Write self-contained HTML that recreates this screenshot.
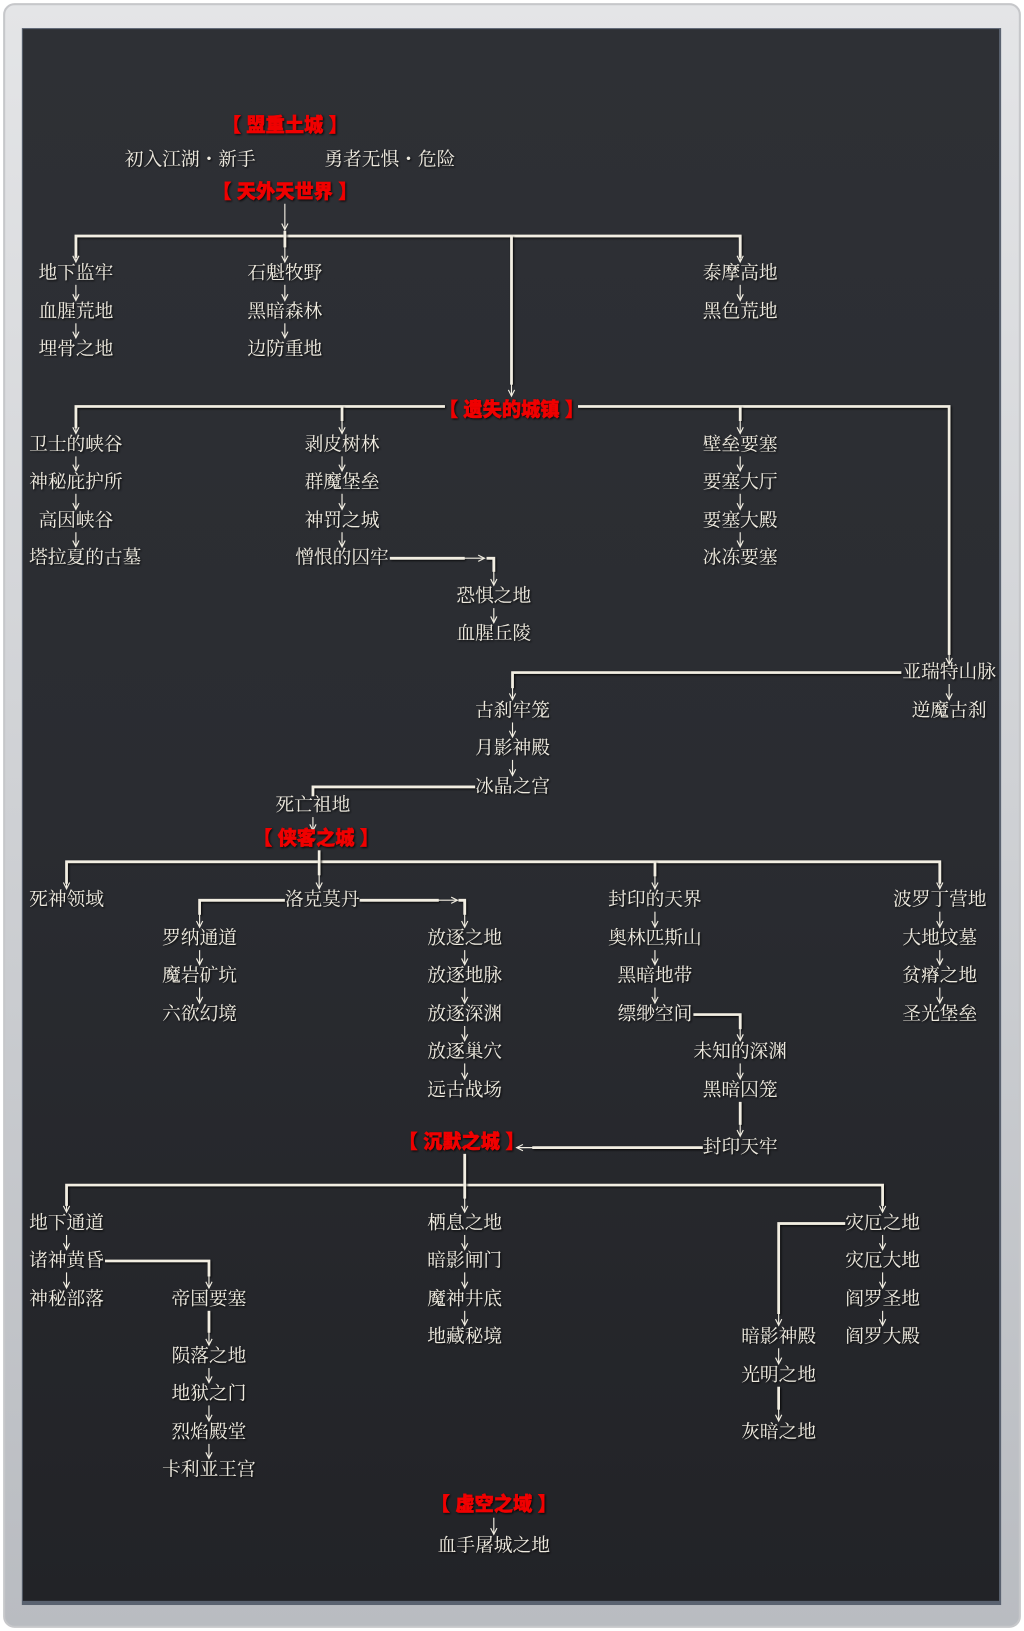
<!DOCTYPE html>
<html><head><meta charset="utf-8">
<style>
html,body{margin:0;padding:0;background:#fff;}
svg{display:block;}
.t{font-family:"Liberation Serif","Noto Serif CJK SC",serif;font-size:18px;fill:#eeeadf;text-anchor:middle;dominant-baseline:central;filter:url(#sh);}
.r{font-family:"Liberation Sans","Noto Sans CJK SC",sans-serif;font-size:18.5px;font-weight:900;fill:#f00000;stroke:#f00000;stroke-width:0.4;text-anchor:middle;dominant-baseline:central;filter:url(#sh);}
.L{stroke:#f2eee2;stroke-width:2.6;fill:none;filter:url(#sh);}
.a{stroke:#f2eee2;stroke-width:1.1;fill:none;marker-end:url(#ah);}
</style></head><body>
<svg width="1024" height="1631" viewBox="0 0 985 1569" preserveAspectRatio="none" xmlns="http://www.w3.org/2000/svg">
<defs>
<filter id="sh" filterUnits="userSpaceOnUse" x="0" y="0" width="985" height="1569"><feDropShadow dx="1" dy="1" stdDeviation="1" flood-color="#000" flood-opacity="0.9"/></filter>
<marker id="ah" markerWidth="10" markerHeight="10" refX="7" refY="4" orient="auto" markerUnits="userSpaceOnUse"><path d="M1,1 L7,4 L1,7" fill="none" stroke="#f2eee2" stroke-width="1.1"/></marker>
<linearGradient id="fr" x1="0" y1="0" x2="0" y2="1"><stop offset="0" stop-color="#e4e5e7"/><stop offset="1" stop-color="#b9bcc1"/></linearGradient>
<linearGradient id="bg" x1="0" y1="0" x2="0" y2="1"><stop offset="0" stop-color="#2e3035"/><stop offset="0.5" stop-color="#2a2c31"/><stop offset="1" stop-color="#222327"/></linearGradient>
</defs>
<rect x="0" y="0" width="985" height="1569" fill="#fff"/>
<rect x="4" y="4" width="977" height="1561" rx="10" fill="url(#fr)" stroke="#c6c7ca" stroke-width="2"/>
<rect x="21" y="27" width="942" height="1517" fill="#5a6270"/>
<rect x="22" y="28" width="939" height="1512" fill="url(#bg)"/>

<text class="r" x="274" y="121">【 盟重土城 】</text>
<text class="t" x="183" y="154">初入江湖・新手</text>
<text class="t" x="375" y="154">勇者无惧・危险</text>
<text class="r" x="274" y="185">【 天外天世界 】</text>
<line class="a" x1="274" y1="196" x2="274" y2="221"/>
<path class="L" d="M73,248 V227 H712 V248"/>
<line class="L" x1="274" y1="222" x2="274" y2="238"/>
<line class="a" x1="274" y1="236" x2="274" y2="252"/>
<line class="L" x1="492" y1="227" x2="492" y2="370"/>
<line class="a" x1="492" y1="365" x2="492" y2="381"/>
<line class="a" x1="73" y1="240" x2="73" y2="252"/>
<line class="a" x1="712" y1="240" x2="712" y2="252"/>

<text class="t" x="73" y="263">地下监牢</text><text class="t" x="73" y="300">血腥荒地</text><text class="t" x="73" y="336">埋骨之地</text>
<line class="a" x1="73" y1="274" x2="73" y2="289"/><line class="a" x1="73" y1="311" x2="73" y2="325"/>
<text class="t" x="274" y="263">石魁牧野</text><text class="t" x="274" y="300">黑暗森林</text><text class="t" x="274" y="336">边防重地</text>
<line class="a" x1="274" y1="274" x2="274" y2="289"/><line class="a" x1="274" y1="311" x2="274" y2="325"/>
<text class="t" x="712" y="263">泰摩高地</text><text class="t" x="712" y="300">黑色荒地</text>
<line class="a" x1="712" y1="274" x2="712" y2="289"/>

<path class="L" d="M73,412 V391 H428"/>
<path class="L" d="M556,391 H913 V630"/>
<line class="a" x1="913" y1="625" x2="913" y2="639"/>
<text class="r" x="492" y="395">【 遗失的城镇 】</text>
<line class="a" x1="73" y1="404" x2="73" y2="417"/>
<line class="L" x1="329" y1="391" x2="329" y2="405"/><line class="a" x1="329" y1="403" x2="329" y2="417"/>
<line class="L" x1="712" y1="391" x2="712" y2="405"/><line class="a" x1="712" y1="403" x2="712" y2="417"/>

<text class="t" x="73" y="428">卫士的峡谷</text><text class="t" x="73" y="464">神秘庇护所</text><text class="t" x="73" y="501">高因峡谷</text><text class="t" x="28" y="537" style="text-anchor:start">塔拉夏的古墓</text>
<line class="a" x1="73" y1="439" x2="73" y2="453"/><line class="a" x1="73" y1="475" x2="73" y2="490"/><line class="a" x1="73" y1="512" x2="73" y2="526"/>
<text class="t" x="329" y="428">剥皮树林</text><text class="t" x="329" y="464">群魔堡垒</text><text class="t" x="329" y="501">神罚之城</text><text class="t" x="329" y="537">憎恨的囚牢</text>
<line class="a" x1="329" y1="439" x2="329" y2="453"/><line class="a" x1="329" y1="475" x2="329" y2="490"/><line class="a" x1="329" y1="512" x2="329" y2="526"/>
<line class="L" x1="375" y1="537" x2="447" y2="537"/>
<line class="a" x1="446" y1="537" x2="466" y2="537"/>
<path class="L" d="M468,537 H475 V550"/><line class="a" x1="475" y1="549" x2="475" y2="563"/>
<text class="t" x="475" y="574">恐惧之地</text><text class="t" x="475" y="610">血腥丘陵</text>
<line class="a" x1="475" y1="585" x2="475" y2="599"/>
<text class="t" x="712" y="428">壁垒要塞</text><text class="t" x="712" y="464">要塞大厅</text><text class="t" x="712" y="501">要塞大殿</text><text class="t" x="712" y="537">冰冻要塞</text>
<line class="a" x1="712" y1="439" x2="712" y2="453"/><line class="a" x1="712" y1="475" x2="712" y2="490"/><line class="a" x1="712" y1="512" x2="712" y2="526"/>

<text class="t" x="913" y="647">亚瑞特山脉</text><text class="t" x="913" y="684">逆魔古刹</text>
<line class="a" x1="913" y1="658" x2="913" y2="673"/>
<path class="L" d="M867,647 H493 V662"/><line class="a" x1="493" y1="660" x2="493" y2="673"/>
<text class="t" x="493" y="684">古刹牢笼</text><text class="t" x="493" y="720">月影神殿</text><text class="t" x="493" y="757">冰晶之宫</text>
<line class="a" x1="493" y1="695" x2="493" y2="709"/><line class="a" x1="493" y1="731" x2="493" y2="746"/>
<path class="L" d="M457,757 H301 V766"/>
<text class="t" x="301" y="775">死亡祖地</text>
<line class="a" x1="301" y1="786" x2="301" y2="799"/>
<text class="r" x="304" y="807">【 侠客之城 】</text>

<path class="L" d="M64,850 V829 H904 V850"/>
<line class="L" x1="307" y1="818" x2="307" y2="842"/><line class="a" x1="307" y1="840" x2="307" y2="855"/>
<line class="a" x1="64" y1="842" x2="64" y2="855"/><line class="a" x1="904" y1="842" x2="904" y2="855"/>
<line class="L" x1="630" y1="829" x2="630" y2="843"/><line class="a" x1="630" y1="841" x2="630" y2="855"/>
<text class="t" x="64" y="866">死神领域</text>
<text class="t" x="310" y="866">洛克莫丹</text>
<path class="L" d="M274,866 H192 V880"/><line class="a" x1="192" y1="878" x2="192" y2="892"/>
<line class="L" x1="346" y1="866" x2="422" y2="866"/>
<line class="a" x1="421" y1="866" x2="440" y2="866"/>
<path class="L" d="M441,866 H447 V880"/><line class="a" x1="447" y1="878" x2="447" y2="892"/>
<text class="t" x="192" y="903">罗纳通道</text><text class="t" x="192" y="939">魔岩矿坑</text><text class="t" x="192" y="976">六欲幻境</text>
<line class="a" x1="192" y1="914" x2="192" y2="928"/><line class="a" x1="192" y1="950" x2="192" y2="965"/>
<text class="t" x="447" y="903">放逐之地</text><text class="t" x="447" y="939">放逐地脉</text><text class="t" x="447" y="976">放逐深渊</text><text class="t" x="447" y="1012">放逐巢穴</text><text class="t" x="447" y="1049">远古战场</text>
<line class="a" x1="447" y1="914" x2="447" y2="928"/><line class="a" x1="447" y1="950" x2="447" y2="965"/><line class="a" x1="447" y1="987" x2="447" y2="1001"/><line class="a" x1="447" y1="1023" x2="447" y2="1038"/>
<text class="t" x="630" y="866">封印的天界</text><text class="t" x="630" y="903">奥林匹斯山</text><text class="t" x="630" y="939">黑暗地带</text><text class="t" x="630" y="976">缥缈空间</text>
<line class="a" x1="630" y1="877" x2="630" y2="892"/><line class="a" x1="630" y1="914" x2="630" y2="928"/><line class="a" x1="630" y1="950" x2="630" y2="965"/>
<path class="L" d="M667,976 H712 V990"/><line class="a" x1="712" y1="988" x2="712" y2="1001"/>
<text class="t" x="712" y="1012">未知的深渊</text><text class="t" x="712" y="1049">黑暗囚笼</text><text class="t" x="712" y="1104">封印天牢</text>
<line class="a" x1="712" y1="1023" x2="712" y2="1038"/>
<line class="L" x1="712" y1="1060" x2="712" y2="1082"/><line class="a" x1="712" y1="1080" x2="712" y2="1093"/>
<text class="t" x="904" y="866">波罗丁营地</text><text class="t" x="904" y="903">大地坟墓</text><text class="t" x="904" y="939">贫瘠之地</text><text class="t" x="904" y="976">圣光堡垒</text>
<line class="a" x1="904" y1="877" x2="904" y2="892"/><line class="a" x1="904" y1="914" x2="904" y2="928"/><line class="a" x1="904" y1="950" x2="904" y2="965"/>
<line class="L" x1="676" y1="1104" x2="512" y2="1104"/>
<line class="a" x1="514" y1="1104" x2="497" y2="1104"/>
<text class="r" x="444" y="1099">【 沉默之城 】</text>

<path class="L" d="M64,1160 V1140 H849 V1160"/>
<line class="L" x1="447" y1="1110" x2="447" y2="1153"/><line class="a" x1="447" y1="1152" x2="447" y2="1166"/>
<line class="a" x1="64" y1="1152" x2="64" y2="1166"/><line class="a" x1="849" y1="1152" x2="849" y2="1166"/>
<text class="t" x="64" y="1177">地下通道</text><text class="t" x="64" y="1213">诸神黄昏</text><text class="t" x="64" y="1250">神秘部落</text>
<line class="a" x1="64" y1="1188" x2="64" y2="1202"/><line class="a" x1="64" y1="1224" x2="64" y2="1239"/>
<path class="L" d="M101,1213 H201 V1228"/><line class="a" x1="201" y1="1226" x2="201" y2="1239"/>
<text class="t" x="201" y="1250">帝国要塞</text><text class="t" x="201" y="1305">陨落之地</text><text class="t" x="201" y="1341">地狱之门</text><text class="t" x="201" y="1378">烈焰殿堂</text><text class="t" x="201" y="1414">卡利亚王宫</text>
<line class="L" x1="201" y1="1261" x2="201" y2="1282"/><line class="a" x1="201" y1="1280" x2="201" y2="1294"/>
<line class="a" x1="201" y1="1316" x2="201" y2="1330"/><line class="a" x1="201" y1="1352" x2="201" y2="1367"/><line class="a" x1="201" y1="1389" x2="201" y2="1403"/>
<text class="t" x="447" y="1177">栖息之地</text><text class="t" x="447" y="1213">暗影闸门</text><text class="t" x="447" y="1250">魔神井底</text><text class="t" x="447" y="1286">地藏秘境</text>
<line class="a" x1="447" y1="1188" x2="447" y2="1202"/><line class="a" x1="447" y1="1224" x2="447" y2="1239"/><line class="a" x1="447" y1="1261" x2="447" y2="1275"/>
<text class="t" x="849" y="1177">灾厄之地</text><text class="t" x="849" y="1213">灾厄大地</text><text class="t" x="849" y="1250">阎罗圣地</text><text class="t" x="849" y="1286">阎罗大殿</text>
<line class="a" x1="849" y1="1188" x2="849" y2="1202"/><line class="a" x1="849" y1="1224" x2="849" y2="1239"/><line class="a" x1="849" y1="1261" x2="849" y2="1275"/>
<path class="L" d="M813,1177 H749 V1264"/><line class="a" x1="749" y1="1262" x2="749" y2="1275"/>
<text class="t" x="749" y="1286">暗影神殿</text><text class="t" x="749" y="1323">光明之地</text><text class="t" x="749" y="1378">灰暗之地</text>
<line class="a" x1="749" y1="1297" x2="749" y2="1312"/>
<line class="L" x1="749" y1="1334" x2="749" y2="1356"/><line class="a" x1="749" y1="1354" x2="749" y2="1367"/>

<text class="r" x="475" y="1448">【 虚空之域 】</text>
<line class="a" x1="475" y1="1460" x2="475" y2="1476"/>
<text class="t" x="475" y="1487">血手屠城之地</text>
</svg>
</body></html>
